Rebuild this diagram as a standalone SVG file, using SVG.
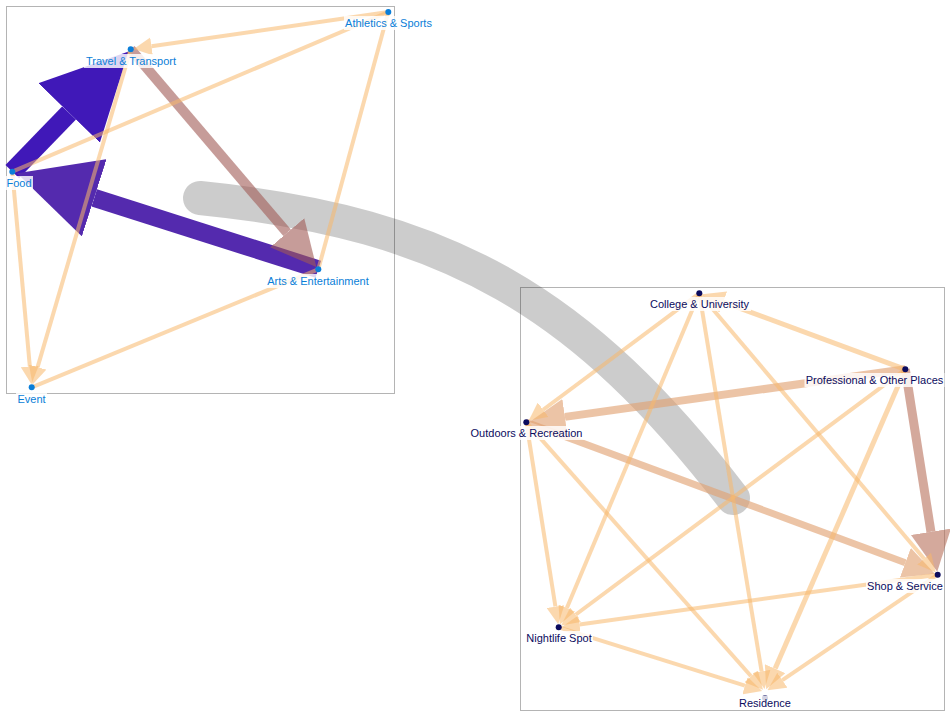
<svg xmlns="http://www.w3.org/2000/svg" width="950" height="716" viewBox="0 0 950 716">
<style>
.box{fill:none;stroke:#b4b4b4;stroke-width:1}
.e{fill:none;stroke-linecap:butt}
.light{stroke:#f7b86b;stroke-opacity:0.55}
.mid{stroke:#e0a070;stroke-opacity:0.62}
.brown1{stroke:#a05a55;stroke-opacity:0.6}
.brown2{stroke:#b8705a;stroke-opacity:0.6}
.blue{stroke:#4018b8}
.purple{stroke:#542aae}
.lb{fill:#fff;fill-opacity:0.82}
.t1{font-family:"Liberation Sans",Arial,sans-serif;font-size:11px;fill:#0a7ed8;text-anchor:middle}
.t2{font-family:"Liberation Sans",Arial,sans-serif;font-size:11px;fill:#0b0b5e;text-anchor:middle}
.d1{fill:#0a7ed8}
.d2{fill:#0b0b5e}
</style>
<defs>
<marker id="m-light" viewBox="0 0 10 10" refX="0" refY="5" markerWidth="4.5" markerHeight="4.5" orient="auto"><path d="M0,0L10,5L0,10z" fill="#f7b86b" fill-opacity="0.55"/></marker>
<marker id="m-mid" viewBox="0 0 10 10" refX="0" refY="5" markerWidth="4.5" markerHeight="4.5" orient="auto"><path d="M0,0L10,5L0,10z" fill="#e0a070" fill-opacity="0.62"/></marker>
<marker id="m-brown1" viewBox="0 0 10 10" refX="0" refY="5" markerWidth="4.5" markerHeight="4.5" orient="auto"><path d="M0,0L10,5L0,10z" fill="#a05a55" fill-opacity="0.6"/></marker>
<marker id="m-brown2" viewBox="0 0 10 10" refX="0" refY="5" markerWidth="4.5" markerHeight="4.5" orient="auto"><path d="M0,0L10,5L0,10z" fill="#b8705a" fill-opacity="0.6"/></marker>
<marker id="m-blue" viewBox="0 0 10 10" refX="0" refY="5" markerWidth="4.5" markerHeight="4.5" orient="auto"><path d="M0,0L10,5L0,10z" fill="#4018b8"/></marker>
<marker id="m-purple" viewBox="0 0 10 10" refX="0" refY="5" markerWidth="4.5" markerHeight="4.5" orient="auto"><path d="M0,0L10,5L0,10z" fill="#542aae"/></marker>
</defs>

<g id="frames">
<rect class="box" x="6.5" y="6.5" width="388" height="387"/>
<rect class="box" x="520.5" y="287.5" width="424" height="423"/>
</g>

<g id="connectors">
<path id="cluster-link" d="M200,198 C450,223 583,303 733,498" fill="none" stroke="#000" stroke-opacity="0.2" stroke-width="34" stroke-linecap="round"/>
<path class="e blue" stroke-width="19" d="M12.3,171.7L69.15,112.91" marker-end="url(#m-blue)"/>
<path class="e purple" stroke-width="18" d="M318.3,269.3L94.23,197.82" marker-end="url(#m-purple)"/>
<path class="e brown1" stroke-width="10" d="M130.7,49.3L287.15,232.75" marker-end="url(#m-brown1)"/>
<path class="e light" stroke-width="4" d="M388.3,12L151.5,46.3" marker-end="url(#m-light)"/>
<path class="e light" stroke-width="4" d="M12.3,171.7L388.3,12"/>
<path class="e light" stroke-width="4" d="M318.3,269.3L388.3,12"/>
<path class="e light" stroke-width="4" d="M130.7,49.3L37.6,367.15" marker-end="url(#m-light)"/>
<path class="e light" stroke-width="4" d="M12.3,171.7L29.82,366.38" marker-end="url(#m-light)"/>
<path class="e light" stroke-width="4" d="M318.3,269.3L31.7,387.3"/>

<path class="e brown2" stroke-width="9" d="M905.3,369.3L930.92,531.74" marker-end="url(#m-brown2)"/>
<path class="e mid" stroke-width="8" d="M905.3,369.3L564.9,416.9" marker-end="url(#m-mid)"/>
<path class="e mid" stroke-width="7" d="M526.3,422.3L905.35,562.72" marker-end="url(#m-mid)"/>
<path class="e light" stroke-width="5" d="M905.3,369.3L723.2,302.1" marker-end="url(#m-light)"/>
<path class="e light" stroke-width="4" d="M699.3,293.3L543.14,409.75" marker-end="url(#m-light)"/>
<path class="e light" stroke-width="4" d="M699.3,293.3L566.84,607.95" marker-end="url(#m-light)"/>
<path class="e light" stroke-width="4" d="M699.3,293.3L761.58,671.28" marker-end="url(#m-light)"/>
<path class="e light" stroke-width="4" d="M699.3,293.3L924.12,558.68" marker-end="url(#m-light)"/>
<path class="e light" stroke-width="4" d="M905.3,369.3L575.55,614.76" marker-end="url(#m-light)"/>
<path class="e light" stroke-width="5" d="M905.3,369.3L775.17,668.62" marker-end="url(#m-light)"/>
<path class="e light" stroke-width="4" d="M526.3,422.3L555.42,606.56" marker-end="url(#m-light)"/>
<path class="e light" stroke-width="4" d="M526.3,422.3L751.08,676.27" marker-end="url(#m-light)"/>
<path class="e light" stroke-width="4" d="M937.7,574.7L579.5,624.41" marker-end="url(#m-light)"/>
<path class="e light" stroke-width="4" d="M937.7,574.7L782.37,680.2" marker-end="url(#m-light)"/>
<path class="e light" stroke-width="4" d="M558.7,627.3L744.96,685.71" marker-end="url(#m-light)"/>
</g>

<g id="athletics-sports"><rect class="lb" x="344" y="16" width="90" height="14"/><text class="t1" x="388.5" y="27">Athletics &amp; Sports</text><circle class="d1" cx="388.3" cy="12" r="3"/></g>
<g id="travel-transport"><rect class="lb" x="84" y="54" width="94" height="14"/><text class="t1" x="131" y="65">Travel &amp; Transport</text><circle class="d1" cx="130.7" cy="49.3" r="3"/></g>
<g id="food"><rect class="lb" x="6" y="176" width="27" height="14"/><text class="t1" x="19" y="187">Food</text><circle class="d1" cx="12.3" cy="171.7" r="3"/></g>
<g id="arts-entertainment"><rect class="lb" x="266" y="274" width="104" height="14"/><text class="t1" x="318" y="285">Arts &amp; Entertainment</text><circle class="d1" cx="318.3" cy="269.3" r="3"/></g>
<g id="event"><rect class="lb" x="16" y="392" width="31" height="14"/><text class="t1" x="31.5" y="403">Event</text><circle class="d1" cx="31.7" cy="387.3" r="3"/></g>

<g id="college-university"><rect class="lb" x="649" y="297" width="102" height="14"/><text class="t2" x="699.5" y="308">College &amp; University</text><circle class="d2" cx="699.3" cy="293.3" r="3"/></g>
<g id="professional-other"><rect class="lb" x="804.5" y="373" width="140" height="14"/><text class="t2" x="874.5" y="384">Professional &amp; Other Places</text><circle class="d2" cx="905.3" cy="369.3" r="3"/></g>
<g id="outdoors-recreation"><rect class="lb" x="469" y="426" width="115" height="14"/><text class="t2" x="526.5" y="437">Outdoors &amp; Recreation</text><circle class="d2" cx="526.3" cy="422.3" r="3"/></g>
<g id="shop-service"><rect class="lb" x="866" y="579" width="78" height="14"/><text class="t2" x="905" y="590">Shop &amp; Service</text><circle class="d2" cx="937.7" cy="574.7" r="3"/></g>
<g id="nightlife-spot"><rect class="lb" x="525" y="631" width="68" height="14"/><text class="t2" x="559" y="642">Nightlife Spot</text><circle class="d2" cx="558.7" cy="627.3" r="3"/></g>
<g id="residence"><circle class="d2" cx="765" cy="698" r="3"/><rect class="lb" x="737" y="695.5" width="56" height="14"/><text class="t2" x="765" y="707">Residence</text></g>
</svg>
